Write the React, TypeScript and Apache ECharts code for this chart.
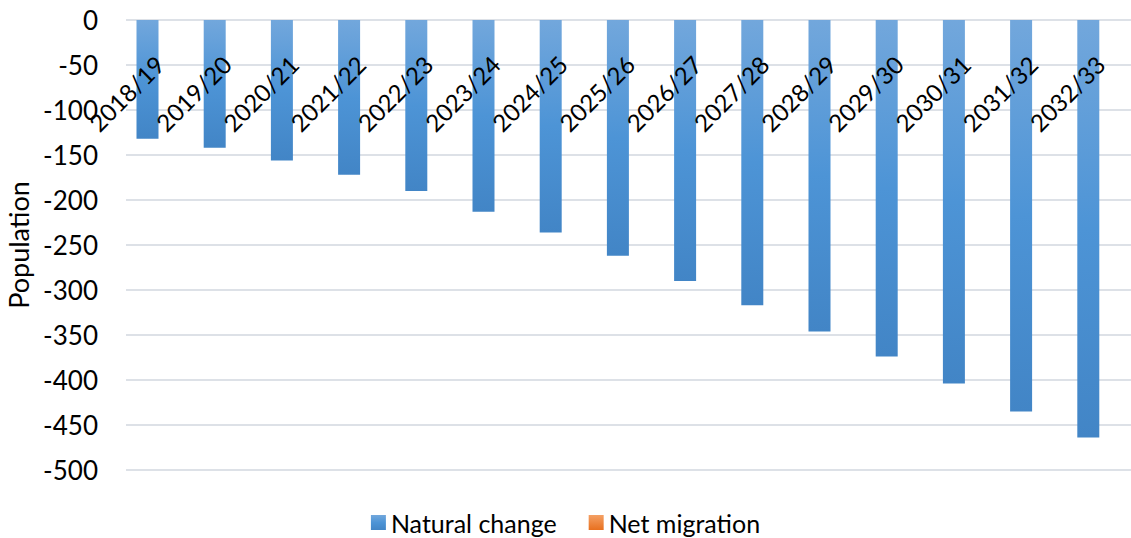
import React, { useEffect, useRef } from "react";
import * as echarts from "echarts";

const categories = [
  "2018/19", "2019/20", "2020/21", "2021/22", "2022/23", "2023/24", "2024/25", "2025/26",
  "2026/27", "2027/28", "2028/29", "2029/30", "2030/31", "2031/32", "2032/33",
];
const naturalChange = [-132, -142, -156, -172, -190, -213, -236, -262, -290, -317, -346, -374, -404, -435, -464];
const netMigration = [0, 0, 0, 0, 0, 0, 0, 0, 0, 0, 0, 0, 0, 0, 0];
const seriesNames = ["Natural change", "Net migration"];

const FONT = "Lato, 'Open Sans', sans-serif";

export default function App() {
  const ref = useRef<HTMLDivElement>(null);
  useEffect(() => {
    if (!ref.current) return;
    const chart = echarts.init(ref.current, undefined, { renderer: "svg" });
    const blue = new echarts.graphic.LinearGradient(0, 0, 0, 1, [
      { offset: 0, color: "#72a7dc" },
      { offset: 0.5, color: "#4d94d6" },
      { offset: 1, color: "#4285c6" },
    ]);
    const orange = new echarts.graphic.LinearGradient(0, 0, 0, 1, [
      { offset: 0, color: "#f4a064" },
      { offset: 1, color: "#e8701f" },
    ]);
    chart.setOption({
      animation: false,
      backgroundColor: "#ffffff",
      textStyle: { fontFamily: FONT },
      grid: { left: 126, right: -3, top: 20, bottom: 68, containLabel: false, outerBoundsMode: "none" },
      legend: {
        bottom: -2,
        left: "center",
        itemWidth: 15,
        itemHeight: 15,
        itemGap: 32,
        icon: "rect",
        textStyle: { fontSize: 25, color: "#000", fontFamily: FONT },
        data: seriesNames,
      },
      xAxis: {
        type: "category",
        data: categories,
        position: "top",
        z: 10,
        axisLine: { show: false },
        axisTick: { show: false },
        axisLabel: {
          inside: true,
          rotate: 45,
          margin: 40,
          fontSize: 24,
          color: "#000",
          fontFamily: FONT,
          interval: 0,
        },
      },
      yAxis: {
        type: "value",
        min: -500,
        max: 0,
        interval: 50,
        name: "Population",
        nameLocation: "middle",
        nameGap: 93,
        nameRotate: 90,
        nameTextStyle: { fontSize: 27, color: "#000", fontFamily: FONT },
        axisLine: { show: false },
        axisTick: { show: false },
        axisLabel: { fontSize: 26, color: "#000", margin: 28, fontFamily: FONT },
        splitLine: { lineStyle: { color: "#dde1e7", width: 2 } },
      },
      series: [
        {
          name: seriesNames[0],
          type: "bar",
          data: naturalChange,
          barWidth: 22,
          barGap: "10%",
          itemStyle: { color: blue },
        },
        {
          name: seriesNames[1],
          type: "bar",
          data: netMigration,
          barWidth: 22,
          barGap: "10%",
          itemStyle: { color: orange },
        },
      ],
    });
    return () => chart.dispose();
  }, []);
  return (
    <div
      ref={ref}
      style={{ position: "fixed", left: 0, top: 0, width: 1131, height: 538, background: "#fff" }}
    />
  );
}
